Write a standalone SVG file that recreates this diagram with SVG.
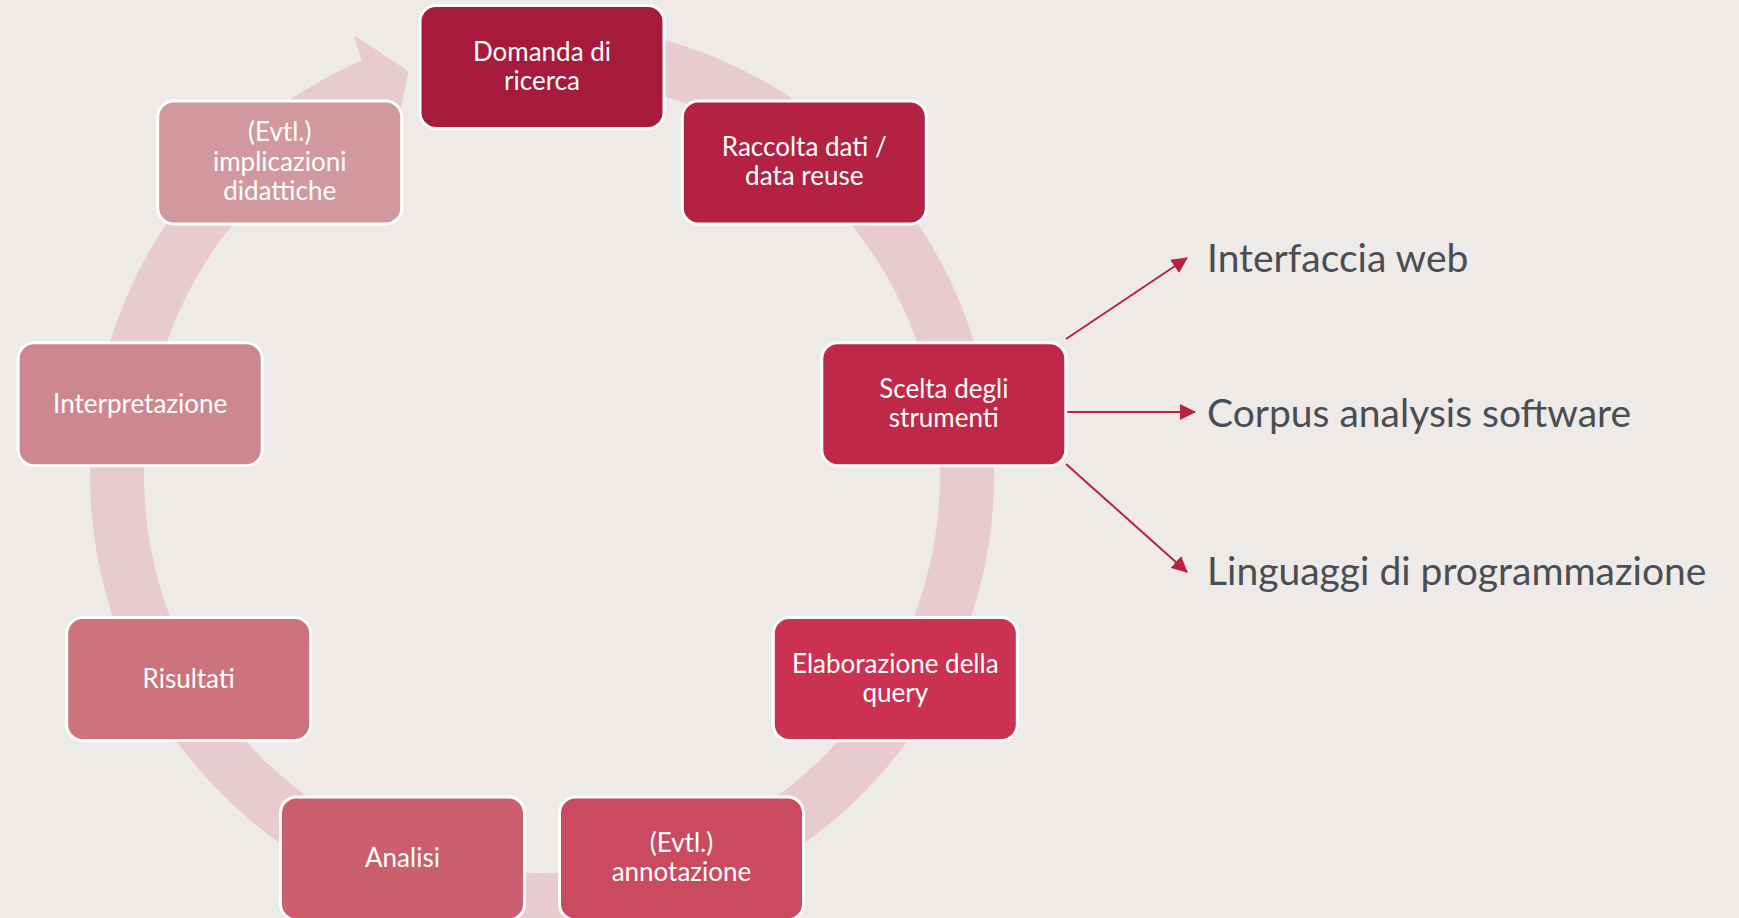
<svg xmlns="http://www.w3.org/2000/svg" width="1739" height="918" viewBox="0 0 1739 918">
<defs>
<style>
.box{stroke:#FFFFFF;stroke-width:3}
.lbl{font-family:Lato,"Open Sans","Liberation Sans",sans-serif;font-size:26px;fill:#FFFFFF;text-anchor:middle}
.side{font-family:Lato,"Open Sans","Liberation Sans",sans-serif;font-size:39px;fill:#4A4D53}
.conn{stroke:#B8213F;stroke-width:2;fill:none}
</style>
<marker id="ah" viewBox="0 0 16 16" refX="15" refY="8" markerWidth="16" markerHeight="16" markerUnits="userSpaceOnUse" orient="auto">
<path d="M0,0 L16,8 L0,16 Z" fill="#B8213F"/>
</marker>
</defs>
<rect x="0" y="0" width="1739" height="918" fill="#EEEAE7"/>
<g id="cycle-arrow">
<path d="M542 23 A452 452 0 1 1 361.8 60.5 L353.3 34.7 L408.6 71.5 L395.9 134 L383.3 110 A398 398 0 1 0 542 77 Z" fill="#E8CBCF"/>
</g>
<g id="connectors">
<line class="conn" x1="1066" y1="339" x2="1187" y2="258" marker-end="url(#ah)"/>
<line class="conn" x1="1067" y1="412" x2="1195" y2="412" marker-end="url(#ah)"/>
<line class="conn" x1="1066" y1="464" x2="1187" y2="572" marker-end="url(#ah)"/>
</g>
<g id="n1">
<rect class="box" x="420" y="5.5" width="244" height="123" rx="16" fill="#A61B3C"/>
<text class="lbl" x="542" y="60.5">Domanda di</text>
<text class="lbl" x="542" y="89.5">ricerca</text>
</g>
<g id="n2">
<rect class="box" x="682.3" y="101" width="244" height="123" rx="16" fill="#B32243"/>
<text class="lbl" x="804.3" y="156">Raccolta dati /</text>
<text class="lbl" x="804.3" y="185">data reuse</text>
</g>
<g id="n3">
<rect class="box" x="821.8" y="342.7" width="244" height="123" rx="16" fill="#BF2847"/>
<text class="lbl" x="943.8" y="397.7">Scelta degli</text>
<text class="lbl" x="943.8" y="426.7">strumenti</text>
</g>
<g id="n4">
<rect class="box" x="773.3" y="617.5" width="244" height="123" rx="16" fill="#CB3150"/>
<text class="lbl" x="895.3" y="672.5">Elaborazione della</text>
<text class="lbl" x="895.3" y="701.5">query</text>
</g>
<g id="n5">
<rect class="box" x="559.5" y="796.9" width="244" height="123" rx="16" fill="#CA4A60"/>
<text class="lbl" x="681.5" y="851.9">(Evtl.)</text>
<text class="lbl" x="681.5" y="880.9">annotazione</text>
</g>
<g id="n6">
<rect class="box" x="280.5" y="796.9" width="244" height="123" rx="16" fill="#CA5F6E"/>
<text class="lbl" x="402.5" y="867.4">Analisi</text>
</g>
<g id="n7">
<rect class="box" x="66.7" y="617.5" width="244" height="123" rx="16" fill="#CC737E"/>
<text class="lbl" x="188.7" y="688">Risultati</text>
</g>
<g id="n8">
<rect class="box" x="18.2" y="342.7" width="244" height="123" rx="16" fill="#CD878E"/>
<text class="lbl" x="140.2" y="413.2">Interpretazione</text>
</g>
<g id="n9">
<rect class="box" x="157.7" y="101" width="244" height="123" rx="16" fill="#D1989D"/>
<text class="lbl" x="279.7" y="141">(Evtl.)</text>
<text class="lbl" x="279.7" y="170.5">implicazioni</text>
<text class="lbl" x="279.7" y="200">didattiche</text>
</g>
<g id="t1"><text class="side" x="1207" y="272">Interfaccia web</text></g>
<g id="t2"><text class="side" x="1207" y="427">Corpus analysis software</text></g>
<g id="t3"><text class="side" x="1207" y="585">Linguaggi di programmazione</text></g>
</svg>
